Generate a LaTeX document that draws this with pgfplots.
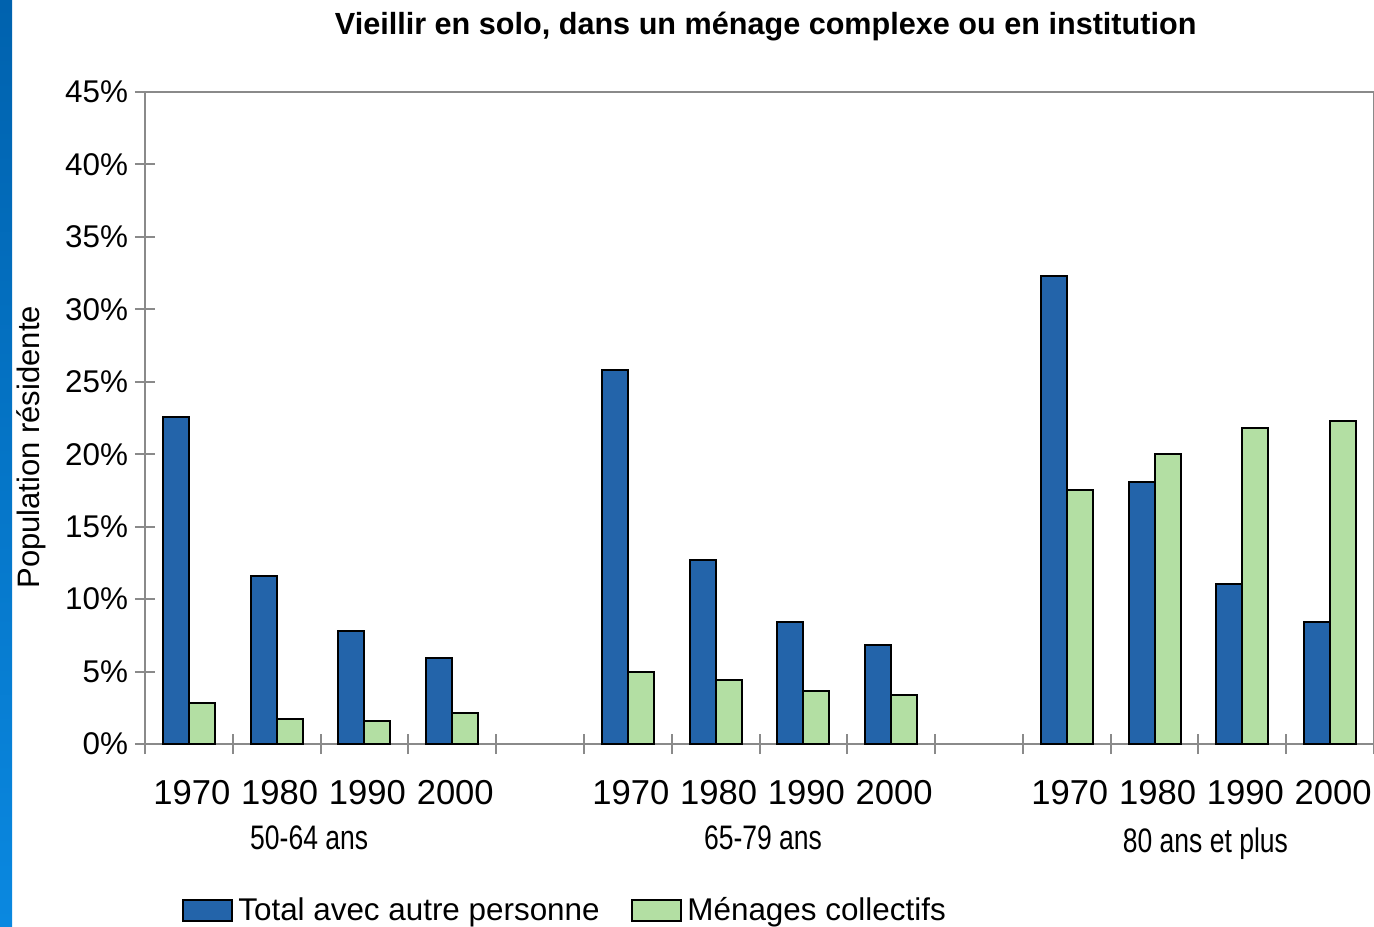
\documentclass[border=0pt]{standalone}
\usepackage{pgfplots}
\pgfplotsset{compat=1.18}
\usepackage{fontspec}
\setmainfont{Liberation Sans}
\newfontfamily\narrowfont[FakeStretch=0.78]{Liberation Sans}
\definecolor{barblue}{HTML}{2364AA}
\definecolor{bargreen}{HTML}{B3DFA3}
\definecolor{axgray}{HTML}{8A8A8A}
\definecolor{stripTop}{HTML}{0062AE}
\definecolor{stripBot}{HTML}{0A88E0}
\begin{document}
\begin{tikzpicture}[x=1pt,y=1pt]
\path[use as bounding box] (0,0) rectangle (687,463);
\shade[top color=stripTop,bottom color=stripBot] (0,0) rectangle (6,463);
\begin{axis}[
  at={(72.5pt,91pt)}, anchor=south west,
  scale only axis, width=614.5pt, height=326pt,
  ybar=0pt, bar width=13pt,
  xmin=-0.5, xmax=13.5, ymin=0, ymax=45,
  xtick={0,1,2,3,5,6,7,8,10,11,12,13},
  xticklabels={1970,1980,1990,2000,1970,1980,1990,2000,1970,1980,1990,2000},
  minor xtick={-0.5,0.5,1.5,2.5,3.5,4.5,5.5,6.5,7.5,8.5,9.5,10.5,11.5,12.5,13.5},
  ytick={0,5,10,15,20,25,30,35,40,45},
  yticklabels={0\%,5\%,10\%,15\%,20\%,25\%,30\%,35\%,40\%,45\%},
  xtick pos=bottom, ytick pos=left,
  tick align=center,
  major tick length=10pt, minor tick length=10pt,
  every major x tick/.append style={draw=none},
  every tick/.append style={axgray, line width=1pt},
  axis line style={axgray, line width=1.2pt},
  xticklabel style={font=\fontsize{17.3}{20}\selectfont, text=black, yshift=-9.5pt, xshift=1.5pt},
  yticklabel style={font=\fontsize{15.7}{19}\selectfont, text=black},
  ylabel={Population résidente},
  ylabel style={font=\fontsize{15.5}{18}\selectfont, at={(axis description cs:0,0.455)}, yshift=57pt, anchor=center},
  title={\textbf{Vieillir en solo, dans un ménage complexe ou en institution}},
  title style={font=\fontsize{15.3}{18}\selectfont, at={(axis description cs:0.505,1)}, yshift=26.5pt, anchor=center},
  legend columns=2,
  legend style={draw=none, fill=none, at={(axis description cs:0.343,-0.255)}, anchor=center,
    font=\fontsize{15.7}{18}\selectfont,
    /tikz/every even column/.append style={column sep=13pt},
    nodes={inner sep=2.7pt}},
  legend image code/.code={\draw[#1, line width=1pt] (0pt,-5.2pt) rectangle (24.5pt,5.2pt);},
  clip=false,
]
\addplot[fill=barblue, draw=black, line width=1pt] coordinates {
  (0,22.6) (1,11.6) (2,7.8) (3,5.95)
  (5,25.8) (6,12.7) (7,8.4) (8,6.8)
  (10,32.3) (11,18.1) (12,11.05) (13,8.45)};
\addplot[fill=bargreen, draw=black, line width=1pt] coordinates {
  (0,2.8) (1,1.75) (2,1.6) (3,2.15)
  (5,4.95) (6,4.4) (7,3.65) (8,3.35)
  (10,17.5) (11,20.0) (12,21.8) (13,22.3)};
\legend{Total avec autre personne, Ménages collectifs}
\node[font=\narrowfont\fontsize{17}{20}\selectfont, anchor=center] at (axis cs:1.37,0) [yshift=-47pt] {50-64 ans};
\node[font=\narrowfont\fontsize{17}{20}\selectfont, anchor=center] at (axis cs:6.54,0) [yshift=-47pt] {65-79 ans};
\node[font=\narrowfont\fontsize{17}{20}\selectfont, anchor=center] at (axis cs:11.58,0) [yshift=-50pt] {80 ans et plus};
\end{axis}
\end{tikzpicture}
\end{document}
